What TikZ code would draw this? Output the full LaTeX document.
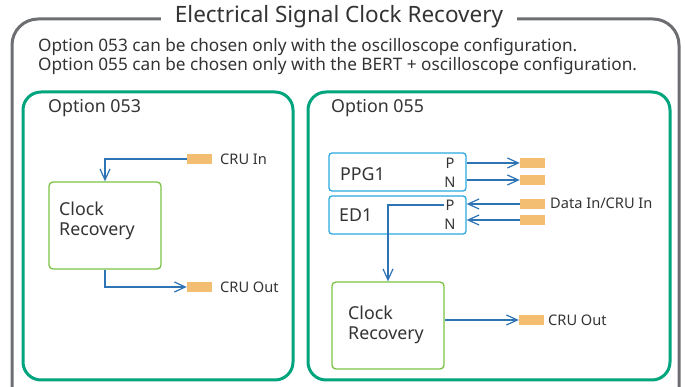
\documentclass[tikz,border=0pt]{standalone}
\usepackage{fontspec}
\setmainfont{Noto Sans}
\usetikzlibrary{arrows.meta, positioning, calc}
\definecolor{framegrey}{HTML}{6D6E71}
\definecolor{optgreen}{HTML}{00A57D}
\definecolor{crgreen}{HTML}{7AC143}
\definecolor{devcyan}{HTML}{29A9E0}
\definecolor{sigblue}{HTML}{2E74B5}
\definecolor{padorange}{HTML}{F3BD72}
\definecolor{txtgrey}{HTML}{333333}
\tikzset{
  panel/.style={draw=optgreen, line width=3pt, rounded corners=18pt},
  crbox/.style={rectangle, rounded corners=4pt, draw=crgreen, line width=1.3pt,
    minimum width=112pt, minimum height=87pt},
  devbox/.style={rectangle, rounded corners=3pt, draw=devcyan, line width=1.3pt,
    minimum width=137pt, minimum height=38pt},
  pad/.style={rectangle, fill=padorange, minimum width=25pt, minimum height=10pt, inner sep=0pt},
  txt/.style={text=txtgrey, inner sep=1pt},
  bigtxt/.style={txt, font=\fontsize{17.2}{20}\selectfont},
  boxtxt/.style={txt, font=\fontsize{17.8}{20.5}\selectfont},
  lbl/.style={txt, font=\fontsize{14.6}{17}\selectfont},
  sig/.style={-{Straight Barb[length=11pt, width=10pt, line width=1.2pt]}, line width=1.3pt, sigblue},
}
\begin{document}
\begin{tikzpicture}[x=1pt, y=-1pt]
\path[use as bounding box, clip] (0,0) rectangle (686,387);
% outer frame and title
\draw[framegrey, line width=3pt, rounded corners=26pt] (12,19) rectangle (679,430);
\node[txt, fill=white, inner xsep=14pt, font=\fontsize{22.5}{25}\selectfont] (title) at (339,17) {Electrical Signal Clock Recovery};
\node[bigtxt, anchor=west] (note1) at (37,47) {Option 053 can be chosen only with the oscilloscope configuration.};
\node[bigtxt, anchor=west] (note2) at (37,66) {Option 055 can be chosen only with the BERT + oscilloscope configuration.};

% option 053
\draw[panel] (23,92) rectangle (293,380);
\node[boxtxt, anchor=west] (opt1) at (47,108) {Option 053};
\node[crbox] (cr1) at (105,225.5) {};
\node[boxtxt, anchor=west, align=left] (cr1txt) at (58,221) {Clock\\Recovery};
\node[pad] (cruin) at (199.5,159) {};
\node[lbl, anchor=west] (cruinlbl) at (219,159) {CRU In};
\node[pad] (cruout) at (199.5,287) {};
\node[lbl, anchor=west] (cruoutlbl) at (219,287) {CRU Out};
\draw[sig] (cruin) -| (cr1.north);
\draw[sig] (cr1.south) |- (cruout);

% option 055
\draw[panel] (308,92) rectangle (670,380);
\node[boxtxt, anchor=west] (opt2) at (330,108) {Option 055};
\node[devbox] (ppg) at (397.5,172) {};
\node[boxtxt, anchor=west] (ppgtxt) at (339,174) {PPG1};
\node[lbl] (ppgP) at (450,163) {P};
\node[lbl] (ppgN) at (450,182) {N};
\node[devbox] (ed) at (397.5,215) {};
\node[boxtxt, anchor=west] (edtxt) at (338,215) {ED1};
\node[lbl] (edP) at (450,205) {P};
\node[lbl] (edN) at (450,224) {N};
\node[pad] (ppgoutP) at (532.5,163) {};
\node[pad] (ppgoutN) at (532.5,180) {};
\node[pad] (edinP) at (532.5,204) {};
\node[pad] (edinN) at (532.5,220) {};
\node[lbl, anchor=west] (datalbl) at (549,203) {Data In/CRU In};
\node[crbox] (cr2) at (388,325.5) {};
\node[boxtxt, anchor=west, align=left] (cr2txt) at (347,325) {Clock\\Recovery};
\node[pad] (cruout2) at (531.5,320) {};
\node[lbl, anchor=west] (cruout2lbl) at (547,320) {CRU Out};
\draw[sig] (ppg.east |- ppgoutP) -- (ppgoutP);
\draw[sig] (ppg.east |- ppgoutN) -- (ppgoutN);
\draw[sig] (edinP) -- (ed.east |- edinP);
\draw[sig] (edinN) -- (ed.east |- edinN);
\draw[sig] (edP.west) -| (cr2.north);
\draw[sig] (cr2.east |- cruout2) -- (cruout2);
\end{tikzpicture}
\end{document}
